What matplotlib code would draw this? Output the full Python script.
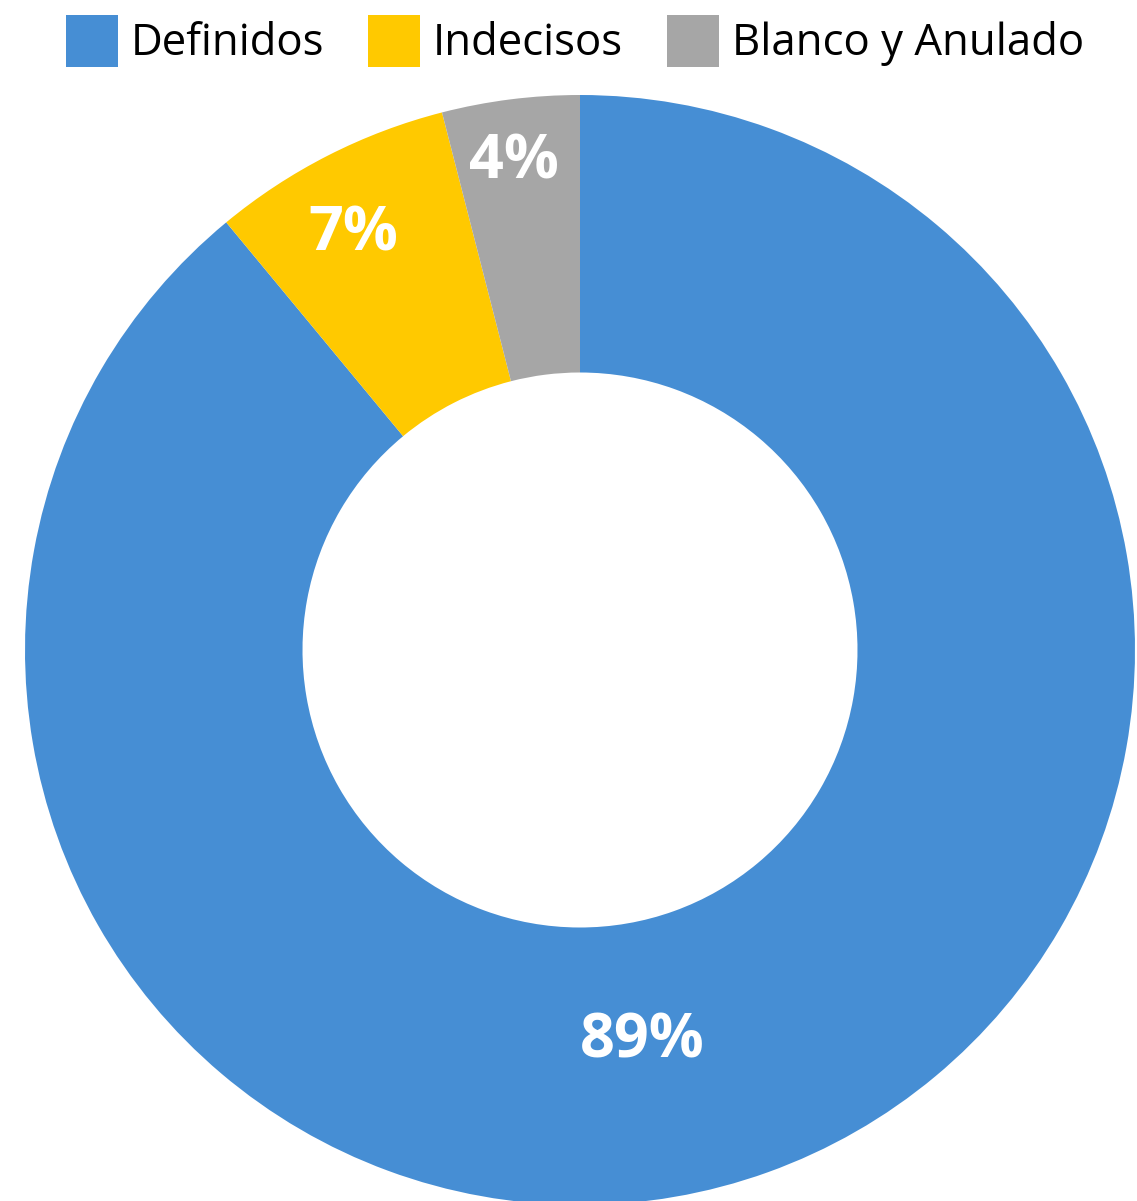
import matplotlib.pyplot as plt
import numpy as np
from matplotlib.patches import Patch
from matplotlib.transforms import offset_copy

plt.rcParams["font.family"] = ["Open Sans", "DejaVu Sans"]

# data
categories = ["Definidos", "Indecisos", "Blanco y Anulado"]
values = [89, 7, 4]
labels = ["89%", "7%", "4%"]

COLORS = ["#468ED4", "#FFC900", "#A6A6A6"]
# label placement inside each wedge: (fraction along the wedge, radius)
LABEL_PLACE = [(0.533, 0.705), (0.45, 0.862), (0.47, 0.897)]

W, H = 1137, 1201
fig = plt.figure(figsize=(W / 100, H / 100), dpi=100)

cx, cy, r = 580, 650, 555
ax = fig.add_axes([(cx - r) / W, (H - cy - r) / H, 2 * r / W, 2 * r / H])
wedges, _ = ax.pie(
    values,
    colors=COLORS,
    startangle=90,
    counterclock=False,
    radius=1,
    wedgeprops=dict(width=0.5, linewidth=0),
)
ax.set_xlim(-1, 1)
ax.set_ylim(-1, 1)
ax.set_aspect("equal")
ax.axis("off")

# nudge the text down a little so the glyphs sit centred
label_tr = offset_copy(ax.transData, fig=fig, x=0, y=-6, units="dots")

# percentage labels, placed from the wedge angles
for w, lab, (frac, rad) in zip(wedges, labels, LABEL_PLACE):
    # wedges go clockwise: theta1 is the end, theta2 the start
    ang = np.deg2rad(w.theta2 + (w.theta1 - w.theta2) * frac)
    ax.text(
        rad * np.cos(ang),
        rad * np.sin(ang),
        lab,
        ha="center",
        va="center",
        color="white",
        fontsize=44,
        fontweight="bold",
        transform=label_tr,
    )

handles = [Patch(facecolor=c, edgecolor="none") for c in COLORS]
fig.legend(
    handles,
    categories,
    loc="center",
    bbox_to_anchor=(575 / W, 1 - 41 / H),
    ncol=3,
    frameon=False,
    fontsize=31.5,
    handlelength=1.19,
    handleheight=1.45,
    handletextpad=0.3,
    columnspacing=1.0,
    borderpad=0,
    borderaxespad=0,
)

fig.savefig("out.png", dpi=100)
